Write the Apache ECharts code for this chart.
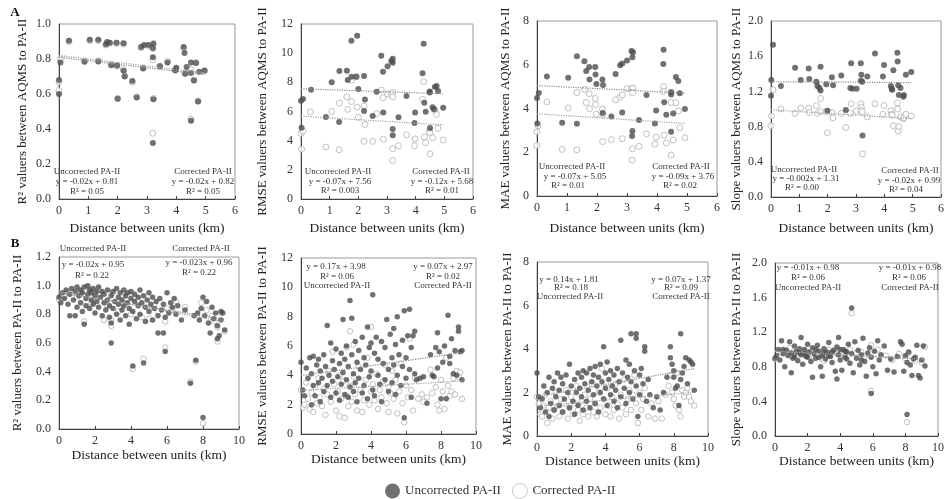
<!DOCTYPE html>
<html>
<head>
<meta charset="utf-8">
<script src="https://cdn.jsdelivr.net/npm/echarts@6/dist/echarts.min.js"></script>
<style>
  html, body { margin: 0; padding: 0; background: #fff; }
  #chart { width: 947px; height: 499px; }
</style>
</head>
<body>
<div id="chart"></div>
<script>
// ---- data ----
// Row A: AQMS vs PA-II, [distance km, value]
var aR2Unc = [[0,0.60],[0,0.68],[0.05,0.78],[0.34,0.905],[0.87,0.785],[1.05,0.91],[1.34,0.91],[1.34,0.786],[1.6,0.885],[1.64,0.897],[1.73,0.893],[1.78,0.765],[1.96,0.893],[1.98,0.763],[2.0,0.573],[2.2,0.89],[2.2,0.733],[2.24,0.70],[2.5,0.675],[2.65,0.58],[2.8,0.868],[2.87,0.746],[2.9,0.88],[3.05,0.88],[3.2,0.863],[3.22,0.889],[3.2,0.81],[3.22,0.57],[3.2,0.32],[3.44,0.758],[3.7,0.78],[3.96,0.735],[4.0,0.75],[4.25,0.868],[4.28,0.834],[4.3,0.716],[4.35,0.754],[4.5,0.78],[4.5,0.72],[4.5,0.447],[4.6,0.677],[4.67,0.777],[4.74,0.557],[4.78,0.727],[4.96,0.735]];
var aR2Cor = [[0,0.62],[0,0.67],[0.05,0.80],[0.34,0.90],[0.87,0.79],[1.05,0.905],[1.34,0.905],[1.34,0.79],[1.6,0.88],[1.73,0.89],[1.78,0.77],[1.96,0.89],[1.98,0.76],[2.0,0.575],[2.2,0.885],[2.2,0.74],[2.24,0.705],[2.5,0.666],[2.65,0.585],[2.8,0.865],[2.87,0.75],[3.05,0.875],[3.2,0.86],[3.2,0.795],[3.22,0.575],[3.2,0.376],[3.44,0.76],[3.7,0.787],[3.96,0.74],[4.25,0.86],[4.3,0.72],[4.5,0.74],[4.5,0.456],[4.6,0.68],[4.67,0.78],[4.74,0.56],[4.96,0.73]];

var aRmseUnc = [[0,6.74],[0.07,6.86],[0.02,4.89],[0.35,7.5],[0.87,5.63],[1.07,8.0],[1.33,5.28],[1.34,8.78],[1.6,8.8],[1.63,8.16],[1.76,10.86],[1.76,8.39],[1.96,11.2],[1.93,8.39],[2.0,7.54],[2.2,8.43],[2.23,6.83],[2.2,6.03],[2.5,5.69],[2.64,7.36],[2.8,9.83],[2.86,8.73],[2.87,5.94],[3.02,9.1],[3.15,9.46],[3.2,9.62],[3.2,9.35],[3.2,4.8],[3.2,4.37],[3.4,5.6],[3.68,7.06],[3.98,5.94],[3.96,5.21],[4.24,8.62],[4.28,10.65],[4.3,6.6],[4.35,5.99],[4.49,7.3],[4.49,7.38],[4.5,4.87],[4.59,6.3],[4.67,7.68],[4.73,7.75],[4.78,7.4],[4.64,6.15],[4.96,6.26]];
var aRmseCor = [[0,4.5],[0.02,3.42],[0.07,4.66],[0.33,5.97],[0.87,3.56],[1.07,6.0],[1.33,3.38],[1.34,6.58],[1.6,7.0],[1.63,6.15],[1.76,6.68],[1.76,8.14],[1.93,8.4],[1.96,6.3],[2.0,5.6],[2.2,6.38],[2.23,5.12],[2.2,3.95],[2.5,3.95],[2.64,5.85],[2.8,7.47],[2.86,6.94],[2.87,4.1],[3.02,7.2],[3.15,7.13],[3.2,7.3],[3.2,7.0],[3.2,3.45],[3.2,2.65],[3.4,3.65],[3.68,4.4],[3.96,3.65],[3.98,4.12],[4.24,6.84],[4.28,8.05],[4.3,4.26],[4.35,3.86],[4.49,4.64],[4.49,4.55],[4.5,3.1],[4.59,4.2],[4.67,6.1],[4.73,5.8],[4.78,4.85],[4.96,4.05]];

var aMaeUnc = [[0,4.48],[0.06,4.71],[0.01,3.32],[0.33,5.46],[0.84,3.35],[1.04,5.41],[1.33,6.39],[1.33,3.3],[1.58,6.16],[1.64,5.71],[1.74,5.9],[1.75,5.33],[1.94,5.9],[1.95,5.56],[1.98,5.12],[2.18,5.33],[2.2,5.08],[2.19,3.79],[2.48,3.63],[2.62,5.58],[2.77,5.98],[2.84,6.06],[2.84,3.82],[3.0,6.2],[3.15,6.63],[3.2,6.57],[3.18,6.34],[3.18,2.97],[3.17,2.74],[3.4,3.48],[3.65,4.62],[3.97,3.91],[3.93,3.32],[4.22,6.69],[4.21,6.03],[4.24,4.29],[4.31,3.71],[4.47,4.64],[4.47,4.76],[4.47,2.94],[4.54,3.77],[4.63,5.44],[4.71,5.26],[4.76,4.7],[4.93,3.98]];
var aMaeCor = [[0,2.94],[0,2.31],[0.04,3.21],[0.33,4.3],[0.84,2.13],[1.04,4.02],[1.33,2.11],[1.33,4.73],[1.58,4.87],[1.64,4.27],[1.74,4.68],[1.75,3.99],[1.94,4.46],[1.95,4.18],[1.98,3.74],[2.18,3.97],[2.2,3.73],[2.19,2.49],[2.48,2.58],[2.62,4.4],[2.77,4.52],[2.84,4.62],[2.84,2.62],[3.0,4.91],[3.15,4.92],[3.2,4.94],[3.18,4.73],[3.18,2.16],[3.17,1.64],[3.4,2.27],[3.65,2.84],[3.97,2.69],[3.93,2.37],[4.22,5.0],[4.21,4.78],[4.24,2.78],[4.31,2.43],[4.47,4.27],[4.47,1.87],[4.54,2.56],[4.63,4.26],[4.71,3.89],[4.76,3.12],[4.93,2.66]];

var aSlopeUnc = [[0.07,1.73],[0.01,1.33],[0,1.15],[0.35,1.26],[0.85,1.47],[1.05,1.33],[1.33,1.46],[1.35,1.34],[1.6,1.31],[1.64,1.26],[1.71,1.24],[1.75,1.48],[1.75,1.21],[1.95,1.28],[1.99,0.98],[2.15,1.36],[2.19,1.27],[2.48,1.38],[2.64,0.99],[2.83,1.52],[2.8,1.24],[2.87,1.23],[3.02,1.23],[3.17,1.52],[3.19,1.39],[3.17,1.32],[3.22,1.31],[3.23,0.70],[3.4,1.37],[3.67,1.63],[3.95,1.37],[3.99,1.5],[4.23,1.26],[4.26,1.23],[4.28,1.22],[4.32,1.44],[4.46,1.64],[4.47,1.54],[4.49,1.27],[4.51,1.16],[4.57,1.24],[4.67,1.14],[4.69,1.16],[4.76,1.39],[4.95,1.42]];
var aSlopeCor = [[0.07,1.22],[0.02,0.92],[0,0.81],[0.35,1.0],[0.85,0.95],[1.05,1.01],[1.33,1.01],[1.35,0.96],[1.6,1.04],[1.64,0.95],[1.75,1.12],[1.75,0.97],[1.99,0.73],[1.95,0.97],[2.15,0.96],[2.19,0.9],[2.48,0.95],[2.64,0.79],[2.83,1.06],[2.8,0.95],[3.02,0.98],[3.17,1.06],[3.19,1.02],[3.17,0.98],[3.22,0.97],[3.23,0.49],[3.4,0.91],[3.67,1.06],[3.95,0.94],[3.99,1.04],[4.23,0.98],[4.26,0.94],[4.28,0.93],[4.32,0.81],[4.46,1.07],[4.47,1.0],[4.49,0.75],[4.51,0.8],[4.57,0.91],[4.67,0.89],[4.69,0.9],[4.76,0.94],[4.95,0.92]];

// Row B: PA-II vs PA-II
var bR2Unc = [[0.0,0.92],[0.1,0.88],[0.2,0.95],[0.3,0.91],[0.4,0.97],[0.5,0.87],[0.6,0.79],[0.6,0.94],[0.7,0.98],[0.8,0.90],[0.9,0.79],[0.9,0.96],[1.0,0.85],[1.0,0.99],[1.1,0.93],[1.2,0.97],[1.2,0.88],[1.3,0.82],[1.3,0.95],[1.4,0.73],[1.4,0.99],[1.5,0.91],[1.5,0.86],[1.6,1.00],[1.6,0.94],[1.7,0.97],[1.7,0.84],[1.8,0.90],[1.8,0.95],[1.9,0.98],[1.9,0.87],[2.0,0.93],[2.0,0.81],[2.1,0.96],[2.1,0.89],[2.2,0.99],[2.2,0.85],[2.3,0.92],[2.4,0.79],[2.4,0.96],[2.5,0.88],[2.5,0.94],[2.6,0.83],[2.7,0.97],[2.7,0.90],[2.8,0.86],[2.8,0.78],[2.9,0.93],[2.9,0.74],[2.9,0.60],[3.0,0.96],[3.0,0.84],[3.1,0.89],[3.2,0.98],[3.2,0.80],[3.3,0.92],[3.3,0.87],[3.4,0.95],[3.4,0.76],[3.5,0.83],[3.5,0.90],[3.6,0.97],[3.6,0.86],[3.7,0.79],[3.7,0.93],[3.8,0.88],[3.8,0.95],[3.9,0.73],[3.9,0.84],[4.0,0.91],[4.0,0.96],[4.1,0.44],[4.1,0.82],[4.2,0.89],[4.2,0.94],[4.3,0.77],[4.4,0.86],[4.4,0.92],[4.5,0.97],[4.5,0.80],[4.6,0.88],[4.7,0.46],[4.7,0.93],[4.8,0.75],[4.8,0.85],[4.9,0.90],[5.0,0.95],[5.0,0.82],[5.1,0.87],[5.2,0.92],[5.2,0.76],[5.3,0.84],[5.4,0.89],[5.5,0.67],[5.5,0.79],[5.6,0.91],[5.7,0.83],[5.8,0.67],[5.8,0.87],[5.9,0.54],[5.9,0.78],[6.0,0.95],[6.1,0.81],[6.2,0.88],[6.3,0.85],[6.4,0.91],[6.5,0.80],[6.6,0.86],[6.8,0.76],[7.0,0.83],[7.3,0.32],[7.5,0.79],[7.6,0.48],[7.7,0.81],[7.8,0.76],[7.9,0.84],[8.0,0.92],[8.0,0.08],[8.1,0.79],[8.2,0.89],[8.3,0.74],[8.4,0.67],[8.5,0.85],[8.6,0.77],[8.7,0.81],[8.8,0.63],[8.8,0.72],[8.9,0.65],[9.0,0.82],[9.0,0.76],[9.1,0.81],[9.2,0.69]];
var bR2Cor = [[0.0,0.90],[0.3,0.93],[0.5,0.95],[1.0,0.92],[1.2,0.96],[1.4,0.75],[1.6,0.99],[1.8,0.88],[2.0,0.94],[2.2,0.97],[2.5,0.76],[2.7,0.86],[2.9,0.72],[2.9,0.76],[3.0,0.95],[3.3,0.82],[3.5,0.88],[3.8,0.93],[4.0,0.80],[4.1,0.42],[4.4,0.90],[4.6,0.78],[4.7,0.49],[5.0,0.77],[5.3,0.86],[5.5,0.82],[5.9,0.57],[5.9,0.75],[6.0,0.84],[6.3,0.83],[6.5,0.89],[7.0,0.85],[7.3,0.33],[7.6,0.47],[7.9,0.88],[8.0,0.04],[8.2,0.83],[8.5,0.79],[8.6,0.75],[8.8,0.61],[8.8,0.71],[9.0,0.81],[9.2,0.68]];

var bRmseUnc = [[0.0,4.9],[0.1,3.0],[0.2,2.6],[0.3,4.5],[0.4,3.8],[0.5,5.2],[0.6,2.0],[0.6,4.1],[0.7,3.3],[0.7,5.3],[0.8,2.6],[0.9,4.7],[1.0,3.5],[1.0,5.1],[1.1,2.2],[1.1,4.3],[1.2,3.8],[1.3,5.4],[1.3,2.9],[1.4,4.6],[1.5,7.4],[1.5,3.3],[1.6,4.0],[1.7,6.2],[1.7,2.5],[1.8,5.0],[1.8,3.6],[1.9,4.4],[2.0,2.8],[2.0,5.8],[2.1,3.9],[2.2,4.8],[2.2,2.3],[2.3,5.5],[2.3,3.4],[2.4,7.8],[2.4,4.2],[2.5,2.7],[2.5,5.1],[2.6,3.7],[2.6,6.0],[2.7,4.6],[2.7,2.5],[2.8,9.1],[2.8,3.2],[2.9,5.4],[2.9,7.9],[3.0,4.1],[3.0,2.9],[3.1,6.3],[3.1,3.5],[3.2,4.9],[3.2,2.2],[3.3,5.7],[3.3,3.8],[3.4,4.4],[3.5,6.6],[3.5,2.8],[3.6,5.2],[3.6,3.3],[3.7,4.7],[3.8,7.3],[3.8,2.4],[3.9,5.9],[3.9,3.9],[4.0,4.3],[4.0,6.2],[4.1,9.5],[4.1,3.0],[4.2,5.5],[4.2,2.6],[4.3,6.6],[4.4,4.0],[4.4,5.1],[4.5,3.4],[4.6,6.3],[4.6,2.2],[4.7,4.8],[4.8,5.9],[4.8,3.7],[4.9,7.8],[5.0,4.4],[5.0,2.9],[5.1,6.8],[5.2,5.2],[5.2,3.5],[5.3,7.2],[5.3,4.7],[5.4,2.7],[5.4,6.1],[5.5,4.0],[5.5,8.0],[5.6,5.4],[5.7,3.3],[5.8,6.4],[5.8,4.6],[5.9,1.1],[5.9,8.4],[6.0,5.2],[6.0,3.8],[6.1,6.7],[6.2,8.5],[6.2,4.4],[6.3,5.9],[6.3,2.5],[6.4,6.7],[6.5,4.1],[6.5,7.0],[6.6,3.7],[6.8,3.8],[7.0,3.9],[7.2,2.1],[7.4,5.4],[7.5,4.0],[7.6,3.9],[7.7,5.9],[7.8,6.9],[7.8,4.5],[7.9,5.6],[8.0,2.4],[8.1,4.9],[8.2,6.0],[8.3,2.4],[8.4,8.1],[8.5,4.8],[8.5,5.3],[8.6,6.5],[8.7,4.1],[8.8,5.7],[8.9,4.0],[9.0,7.3],[9.0,7.0],[9.1,5.6],[9.2,3.7],[9.2,5.7]];
var bRmseCor = [[0.0,3.0],[0.1,1.8],[0.2,2.0],[0.3,3.5],[0.4,2.4],[0.5,1.7],[0.6,2.8],[0.7,1.5],[0.8,3.2],[0.9,2.1],[1.0,3.8],[1.1,2.5],[1.2,1.9],[1.3,3.1],[1.4,1.3],[1.5,2.7],[1.6,4.3],[1.7,2.2],[1.8,5.6],[1.9,3.4],[2.0,1.6],[2.1,2.9],[2.2,4.0],[2.2,1.2],[2.3,2.4],[2.4,3.6],[2.5,1.1],[2.6,5.9],[2.6,2.6],[2.7,1.9],[2.8,7.0],[2.8,3.3],[2.9,2.2],[3.0,6.1],[3.0,3.9],[3.1,2.7],[3.2,1.6],[3.3,4.6],[3.4,3.0],[3.5,1.5],[3.6,2.3],[3.7,3.7],[3.8,5.2],[3.9,2.0],[4.0,7.3],[4.0,2.9],[4.1,3.4],[4.2,2.3],[4.3,4.1],[4.4,1.7],[4.5,3.0],[4.6,2.5],[4.7,3.6],[4.8,4.7],[4.9,2.1],[5.0,3.2],[5.0,1.5],[5.1,2.8],[5.2,4.3],[5.3,2.4],[5.4,3.7],[5.5,1.4],[5.6,2.9],[5.7,4.8],[5.8,2.1],[5.9,0.8],[6.0,3.3],[6.1,2.5],[6.2,6.5],[6.3,3.0],[6.4,1.6],[6.5,3.8],[6.7,2.4],[6.9,2.7],[7.0,2.2],[7.2,2.5],[7.4,4.4],[7.5,2.8],[7.7,3.2],[7.8,2.0],[7.9,1.6],[8.0,3.7],[8.1,2.9],[8.2,1.7],[8.3,5.2],[8.4,3.3],[8.5,2.6],[8.6,2.9],[8.7,3.8],[8.8,2.7],[8.9,4.3],[9.0,3.9],[9.1,4.2],[9.2,2.4]];

var bMaeUnc = [[0.0,2.9],[0.1,1.8],[0.2,1.3],[0.3,1.7],[0.4,2.3],[0.5,1.1],[0.6,2.0],[0.7,0.9],[0.7,2.7],[0.8,1.5],[0.9,2.2],[1.0,1.2],[1.0,2.5],[1.1,1.8],[1.2,2.9],[1.3,1.4],[1.3,2.1],[1.4,2.7],[1.5,1.1],[1.5,2.4],[1.6,1.7],[1.7,2.8],[1.8,2.0],[1.9,3.3],[1.9,1.3],[2.0,2.3],[2.1,1.6],[2.2,2.6],[2.2,1.0],[2.3,2.0],[2.4,2.9],[2.4,1.4],[2.5,2.2],[2.6,1.8],[2.6,2.7],[2.7,3.0],[2.7,1.2],[2.8,2.4],[2.9,1.6],[2.9,2.9],[3.0,2.1],[3.1,3.1],[3.1,1.3],[3.2,2.5],[3.3,1.9],[3.3,2.8],[3.4,3.2],[3.4,1.5],[3.5,2.3],[3.6,1.1],[3.6,2.7],[3.7,3.3],[3.7,2.0],[3.8,2.5],[3.9,4.1],[3.9,1.7],[4.0,2.9],[4.0,2.2],[4.1,3.4],[4.1,1.4],[4.2,2.6],[4.3,1.9],[4.3,3.0],[4.4,2.3],[4.5,1.6],[4.5,2.8],[4.6,2.1],[4.7,3.1],[4.7,1.3],[4.8,2.5],[4.9,4.4],[4.9,1.8],[5.0,2.9],[5.1,2.2],[5.2,3.5],[5.2,1.5],[5.3,2.7],[5.4,3.3],[5.4,2.0],[5.5,4.7],[5.5,2.5],[5.6,1.7],[5.7,3.0],[5.8,4.7],[5.8,4.5],[5.8,2.3],[5.9,0.9],[6.0,2.8],[6.0,1.9],[6.1,3.1],[6.2,2.4],[6.3,4.1],[6.3,3.9],[6.4,1.6],[6.5,2.6],[6.6,1.9],[6.8,1.3],[7.0,1.8],[7.2,1.2],[7.4,2.0],[7.6,2.7],[7.8,4.1],[7.8,3.6],[7.9,3.3],[8.0,3.0],[8.0,2.7],[8.1,2.2],[8.2,2.3],[8.3,1.4],[8.4,4.7],[8.4,2.6],[8.5,2.9],[8.6,3.2],[8.7,3.6],[8.8,2.4],[8.9,3.5],[9.0,3.4],[9.1,3.3],[9.2,2.1]];
var bMaeCor = [[0.0,1.8],[0.1,1.5],[0.2,1.0],[0.3,0.9],[0.4,1.4],[0.5,1.9],[0.6,0.6],[0.7,1.3],[0.8,1.6],[0.9,0.8],[1.0,1.2],[1.1,2.0],[1.2,1.4],[1.3,0.9],[1.4,1.7],[1.5,1.1],[1.6,1.5],[1.7,2.1],[1.8,0.8],[1.9,1.3],[2.0,1.8],[2.1,1.0],[2.2,1.5],[2.3,2.3],[2.4,1.2],[2.5,0.7],[2.6,1.6],[2.7,1.0],[2.8,1.9],[2.9,1.3],[3.0,0.9],[3.1,1.7],[3.2,2.4],[3.3,1.1],[3.4,1.5],[3.5,0.9],[3.6,2.0],[3.7,1.3],[3.8,3.1],[3.9,1.7],[4.0,1.0],[4.1,2.2],[4.2,1.4],[4.3,0.9],[4.4,1.8],[4.5,1.2],[4.6,2.4],[4.7,1.5],[4.8,0.8],[4.9,1.9],[5.0,1.3],[5.1,2.6],[5.2,1.0],[5.3,1.7],[5.4,2.1],[5.5,1.2],[5.6,1.9],[5.7,2.8],[5.8,1.5],[5.9,0.6],[6.0,2.0],[6.1,1.2],[6.2,1.7],[6.3,2.2],[6.5,0.9],[6.7,1.5],[6.9,0.8],[7.1,1.6],[7.3,0.8],[7.5,1.9],[7.7,2.3],[7.8,2.8],[7.9,2.0],[8.0,1.7],[8.1,1.4],[8.2,2.9],[8.3,1.2],[8.4,0.9],[8.5,2.1],[8.6,1.8],[8.7,2.0],[8.8,2.2],[8.9,1.8],[9.0,1.6],[9.2,1.4]];

var bSlopeUnc = [[0.0,0.90],[0.1,0.93],[0.2,1.00],[0.3,0.88],[0.4,1.10],[0.5,0.95],[0.5,1.00],[0.6,0.80],[0.7,0.99],[0.8,0.93],[0.9,1.09],[1.0,0.73],[1.0,0.96],[1.1,0.90],[1.2,1.04],[1.2,0.92],[1.3,0.98],[1.4,0.87],[1.5,1.01],[1.5,0.96],[1.6,1.14],[1.6,0.94],[1.7,0.83],[1.8,1.00],[1.8,0.95],[1.9,0.92],[2.0,1.06],[2.0,0.91],[2.1,0.97],[2.2,0.86],[2.3,0.68],[2.3,1.02],[2.4,0.95],[2.5,0.90],[2.5,1.00],[2.6,1.05],[2.7,0.98],[2.7,0.91],[2.8,0.80],[2.9,0.93],[2.9,0.69],[3.0,1.01],[3.0,0.96],[3.1,0.89],[3.2,0.97],[3.3,1.08],[3.3,0.93],[3.4,0.92],[3.5,0.85],[3.5,0.97],[3.6,0.99],[3.7,0.75],[3.8,1.03],[3.8,0.66],[3.9,1.14],[3.9,0.94],[4.0,0.88],[4.0,1.00],[4.1,0.76],[4.2,1.00],[4.3,0.91],[4.3,0.98],[4.4,0.97],[4.4,0.89],[4.5,1.06],[4.6,0.84],[4.7,1.48],[4.7,0.95],[4.8,0.73],[4.9,1.09],[5.0,0.90],[5.1,0.99],[5.2,0.82],[5.3,0.94],[5.3,0.88],[5.4,1.13],[5.5,0.86],[5.6,0.69],[5.7,0.96],[5.8,1.02],[5.9,0.49],[5.9,0.91],[6.0,0.80],[6.1,0.98],[6.2,0.72],[6.3,1.10],[6.4,0.88],[6.5,0.94],[6.7,1.04],[6.9,0.76],[7.1,0.89],[7.3,0.74],[7.5,0.92],[7.7,1.09],[7.8,1.06],[7.9,0.75],[8.0,0.93],[8.1,0.25],[8.1,0.85],[8.2,0.97],[8.3,0.82],[8.4,0.70],[8.5,0.89],[8.6,0.91],[8.7,1.05],[8.8,0.70],[8.9,0.67],[9.0,0.88],[9.1,1.04],[9.2,0.81]];
var bSlopeCor = [[0.0,0.89],[0.4,0.97],[0.9,1.02],[1.0,0.92],[1.4,0.93],[1.9,0.98],[2.0,0.95],[2.4,0.90],[2.9,0.89],[3.0,0.87],[3.3,1.00],[3.8,0.95],[4.2,0.94],[4.6,1.00],[4.7,1.42],[5.0,0.96],[5.3,0.97],[5.5,0.92],[5.9,0.52],[5.9,1.05],[6.3,1.00],[6.8,0.93],[7.2,0.88],[7.6,0.95],[8.0,0.90],[8.1,0.16],[8.2,0.96],[8.6,0.87],[9.0,0.85],[9.2,1.03]];

// regression lines printed on each panel: [slope, intercept]
var fitUnc = [[-0.02,0.81],[-0.07,7.56],[-0.07,5.05],[-0.002,1.31],[-0.02,0.95],[0.17,3.98],[0.14,1.81],[-0.01,0.98]];
var fitCor = [[-0.02,0.82],[-0.12,5.68],[-0.09,3.76],[-0.02,0.99],[-0.023,0.96],[0.07,2.97],[0.07,1.37],[-0.01,0.98]];

var yNames = ['R\u00b2 valuers between AQMS to PA-II','RMSE valuers between AQMS to PA-II','MAE valuers between AQMS to PA-II','Slope valuers between AQMS to PA-II',
              'R\u00b2 valuers between PA-II to PA-II','RMSE valuers between PA-II to PA-II','MAE valuers between PA-II to PA-II','Slope valuers between PA-II to PA-II'];
var yMax = [1.0, 12, 8, 2.0, 1.2, 12, 8, 2.0];
var yStep = [0.2, 2, 2, 0.4, 0.2, 2, 2, 0.4];
var yDec = [1, 0, 0, 1, 1, 0, 0, 1];
var xMax = [6, 6, 6, 6, 10, 10, 10, 10];
var xStep = [1, 1, 1, 1, 2, 2, 2, 2];

var uncSets = [aR2Unc, aRmseUnc, aMaeUnc, aSlopeUnc, bR2Unc, bRmseUnc, bMaeUnc, bSlopeUnc];
var corSets = [aR2Cor, aRmseCor, aMaeCor, aSlopeCor, bR2Cor, bRmseCor, bMaeCor, bSlopeCor];

// ---- layout ----
var grids = [
  {left: 59, top: 24, width: 176, height: 175},
  {left: 301, top: 24, width: 172, height: 175},
  {left: 537, top: 21, width: 180, height: 175},
  {left: 771, top: 21, width: 171, height: 176},
  {left: 59, top: 257, width: 180, height: 172},
  {left: 301, top: 258, width: 175, height: 176},
  {left: 537, top: 262, width: 171, height: 174},
  {left: 775, top: 263, width: 169, height: 173}
];
var yNameGap = [30, 32, 25, 28, 35, 32, 23, 32];
var xNameGap = [22, 22, 25, 24, 19, 14, 12, 12];

// text blocks: [x, y, text]
var notes = [
  [87,172,'Uncorrected PA-II'],[87,182,'y = -0.02x + 0.81'],[87,192,'R\u00b2 = 0.05'],
  [203,172,'Corrected PA-II'],[203,182,'y = -0.02x + 0.82'],[203,192,'R\u00b2 = 0.05'],
  [338,172,'Uncorrected PA-II'],[340,182,'y = -0.07x + 7.56'],[340,191,'R\u00b2 = 0.003'],
  [441,172,'Corrected PA-II'],[442,182,'y = -0.12x + 5.68'],[442,191,'R\u00b2 = 0.01'],
  [572,167,'Uncorrected PA-II'],[575,177,'y = -0.07x + 5.05'],[568,186,'R\u00b2 = 0.01'],
  [681,167,'Corrected PA-II'],[683,177,'y = -0.09x + 3.76'],[680,186,'R\u00b2 = 0.02'],
  [804,170,'Uncorrected PA-II'],[806,179,'y = -0.002x + 1.31'],[802,188,'R\u00b2 = 0.00'],
  [910,171,'Corrected PA-II'],[909,181,'y = -0.02x + 0.99'],[906,190,'R\u00b2 = 0.04'],
  [93,249,'Uncorrected PA-II'],[201,249,'Corrected PA-II'],
  [93,265,'y = -0.02x + 0.95'],[92,276,'R\u00b2 = 0.22'],[199,263,'y = -0.023x + 0.96'],[199,273,'R\u00b2 = 0.22'],
  [336,267,'y = 0.17x + 3.98'],[337,277,'R\u00b2 = 0.06'],[337,286,'Uncorrected PA-II'],
  [443,267,'y = 0.07x + 2.97'],[443,277,'R\u00b2 = 0.02'],[443,286,'Corrected PA-II'],
  [569,280,'y = 0.14x + 1.81'],[571,288,'R\u00b2 = 0.18'],[570,297,'Uncorrected PA-II'],
  [681,280,'y = 0.07x + 1.37'],[681,288,'R\u00b2 = 0.09'],[681,297,'Corrected PA-II'],
  [808,268,'y = -0.01x + 0.98'],[808,278,'R\u00b2 = 0.06'],[808,288,'Uncorrected PA-II'],
  [910,268,'y = -0.01x + 0.98'],[909,278,'R\u00b2 = 0.06'],[910,288,'Corrected PA-II']
];

var FONT = '"Liberation Serif", "Times New Roman", serif';
var DARK = '#4d4d4d';

function fitLine(fit, pts){
  var xEnd = 0;
  for (var i = 0; i < pts.length; i++) xEnd = Math.max(xEnd, pts[i][0]);
  return [[0, fit[1]], [xEnd, fit[0] * xEnd + fit[1]]];
}

var chart = echarts.init(document.getElementById('chart'));
var xAxes = [], yAxes = [], series = [], gridOpts = [];

for (var i = 0; i < 8; i++) {
  gridOpts.push({left: grids[i].left, top: grids[i].top, width: grids[i].width, height: grids[i].height,
    show: true, borderColor: '#9a9a9a', borderWidth: 1});
  xAxes.push({
    type: 'value', gridIndex: i, min: 0, max: xMax[i], interval: xStep[i],
    name: 'Distance between units (km)', nameLocation: 'middle', nameGap: xNameGap[i],
    nameTextStyle: {fontFamily: FONT, fontSize: 13.5, color: '#222'},
    axisLine: {onZero: false, lineStyle: {color: '#444', width: 1}},
    axisTick: {show: true, inside: true, length: 3, lineStyle: {color: '#444'}},
    axisLabel: {fontFamily: FONT, fontSize: 12, color: '#333', margin: 6},
    splitLine: {show: false}
  });
  (function(dec){
    yAxes.push({
      type: 'value', gridIndex: i, min: 0, max: yMax[i], interval: yStep[i],
      name: yNames[i], nameLocation: 'middle', nameGap: yNameGap[i], nameRotate: 90,
      nameTextStyle: {fontFamily: FONT, fontSize: 13, color: '#222'},
      axisLine: {show: true, onZero: false, lineStyle: {color: '#444', width: 1}},
      axisTick: {show: false},
      axisLabel: {fontFamily: FONT, fontSize: 12, color: '#333', margin: 8,
        formatter: function(v){ return v.toFixed(dec); }},
      splitLine: {show: false}
    });
  })(yDec[i]);

  var sz = i < 4 ? 6 : 5.5;
  series.push({
    name: 'Corrected PA-II', type: 'scatter', xAxisIndex: i, yAxisIndex: i,
    data: corSets[i], symbolSize: sz, z: 2,
    itemStyle: {color: '#fff', borderColor: '#a8a8a8', borderWidth: 0.9}
  });
  series.push({
    name: 'Uncorrected PA-II', type: 'scatter', xAxisIndex: i, yAxisIndex: i,
    data: uncSets[i], symbolSize: sz, z: 3,
    itemStyle: {color: DARK}
  });
  series.push({
    type: 'line', xAxisIndex: i, yAxisIndex: i, data: fitLine(fitUnc[i], uncSets[i]),
    showSymbol: false, silent: true, z: 4,
    lineStyle: {color: '#8a8a8a', width: 1.2, type: 'dotted'}
  });
  series.push({
    type: 'line', xAxisIndex: i, yAxisIndex: i, data: fitLine(fitCor[i], corSets[i]),
    showSymbol: false, silent: true, z: 4,
    lineStyle: {color: '#a0a0a0', width: 1.2, type: 'dotted'}
  });
}

var graphics = notes.map(function(n){
  return {type: 'text', x: n[0], y: n[1], z: 10,
    style: {text: n[2], fill: '#333', font: '9px ' + FONT, align: 'center', verticalAlign: 'middle'}};
});
graphics.push({type: 'text', x: 15, y: 13, style: {text: 'A', fill: '#111', font: 'bold 13px ' + FONT, align: 'center', verticalAlign: 'middle'}});
graphics.push({type: 'text', x: 15, y: 244, style: {text: 'B', fill: '#111', font: 'bold 13px ' + FONT, align: 'center', verticalAlign: 'middle'}});

chart.setOption({
  animation: false,
  backgroundColor: '#fff',
  grid: gridOpts,
  xAxis: xAxes,
  yAxis: yAxes,
  series: series,
  graphic: graphics,
  legend: {
    left: 380, top: 478, itemWidth: 15, itemHeight: 15, itemGap: 11,
    textStyle: {fontFamily: FONT, fontSize: 13, color: '#333'},
    data: [
      {name: 'Uncorrected PA-II', icon: 'circle', itemStyle: {color: DARK}},
      {name: 'Corrected PA-II', icon: 'circle', itemStyle: {color: '#fff', borderColor: '#bbb', borderWidth: 1}}
    ]
  }
});
</script>
</body>
</html>
